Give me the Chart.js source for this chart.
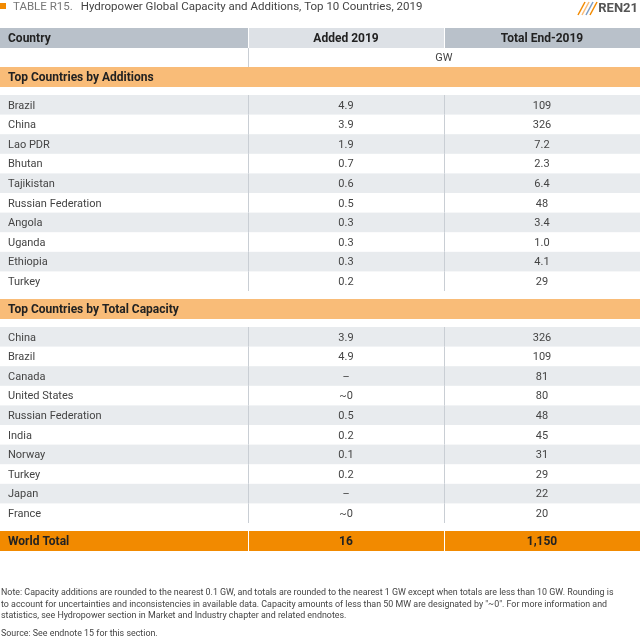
<meta charset="UTF-8">
<style>body{margin:0;background:#fff}</style>
<canvas id="tbl" width="640" height="639"></canvas>
<script src="https://cdn.jsdelivr.net/npm/chart.js@4.4.0/dist/chart.umd.min.js"></script>
<script>
const columns = ['Country', 'Added 2019', 'Total End-2019'];
const byAdditionsCountries = ['Brazil', 'China', 'Lao PDR', 'Bhutan', 'Tajikistan', 'Russian Federation', 'Angola', 'Uganda', 'Ethiopia', 'Turkey'];
const byAdditionsAdded = ['4.9', '3.9', '1.9', '0.7', '0.6', '0.5', '0.3', '0.3', '0.3', '0.2'];
const byAdditionsTotal = ['109', '326', '7.2', '2.3', '6.4', '48', '3.4', '1.0', '4.1', '29'];
const byCapacityCountries = ['China', 'Brazil', 'Canada', 'United States', 'Russian Federation', 'India', 'Norway', 'Turkey', 'Japan', 'France'];
const byCapacityAdded = ['3.9', '4.9', '–', '~0', '0.5', '0.2', '0.1', '0.2', '–', '~0'];
const byCapacityTotal = ['326', '109', '81', '80', '48', '45', '31', '29', '22', '20'];
const worldTotal = ['World Total', '16', '1,150'];

const X1 = 248, X2 = 444, W = 640, RH = 19.6;

const tablePlugin = {
  id: 'table',
  beforeDraw(chart) {
    const c = chart.ctx;
    c.save();
    c.fillStyle = '#fff'; c.fillRect(0, 0, W, 639);
    c.textBaseline = 'middle';
    const txt = (s, x, y, align, font, color) => {
      c.font = font; c.fillStyle = color || '#333'; c.textAlign = align; c.fillText(s, x, y + 1);
    };
    // title
    c.fillStyle = '#f28a00'; c.fillRect(0, 3, 6, 6);
    const tf = '11.5px Roboto, sans-serif';
    txt('TABLE R15.', 13, 6, 'left', tf, '#777');
    c.font = tf;
    const tx = 13 + c.measureText('TABLE R15.').width + 8;
    txt('Hydropower Global Capacity and Additions, Top 10 Countries, 2019', tx, 6, 'left', tf, '#444');
    txt('REN21', 638, 8, 'right', 'bold 13px Roboto, sans-serif', '#555');
    const stripe = ['#f28a00', '#f9bc78', '#7a9cc6', '#f28a00'];
    c.lineWidth = 1.5;
    for (let i = 0; i < 4; i++) { c.strokeStyle = stripe[i]; c.beginPath(); c.moveTo(578 + i * 4, 15); c.lineTo(585 + i * 4, 2); c.stroke(); }
    // header
    c.fillStyle = '#b9c1ca'; c.fillRect(0, 28, X1, 20);
    c.fillStyle = '#dde1e6'; c.fillRect(X1 + 1, 28, X2 - X1 - 1, 20);
    c.fillStyle = '#b9c1ca'; c.fillRect(X2 + 1, 28, W - X2 - 1, 20);
    const hf = 'bold 12px Roboto, sans-serif';
    txt(columns[0], 8, 38, 'left', hf, '#222');
    txt(columns[1], 346, 38, 'center', hf, '#222');
    txt(columns[2], 542, 38, 'center', hf, '#222');
    c.fillStyle = '#c9ced4'; c.fillRect(X1, 48, 1, 19);
    txt('GW', 444, 57.5, 'center', '11px Roboto, sans-serif', '#444');
    const band = (label, y) => {
      c.fillStyle = '#f9bc78'; c.fillRect(0, y, W, 20);
      txt(label, 8, y + 10, 'left', hf, '#222');
    };
    const rows = (names, a, t, y0) => {
      names.forEach((n, i) => {
        const y = y0 + i * RH;
        if (i % 2 === 0) { c.fillStyle = '#e8ebee'; c.fillRect(0, y, W, RH); }
        c.fillStyle = '#c9ced4'; c.fillRect(X1, y, 1, RH); c.fillRect(X2, y, 1, RH);
        const f = '11px Roboto, sans-serif';
        txt(n, 8, y + RH / 2, 'left', f, '#444');
        txt(a[i], 346, y + RH / 2, 'center', f, '#444');
        txt(t[i], 542, y + RH / 2, 'center', f, '#444');
      });
    };
    band('Top Countries by Additions', 67);
    rows(byAdditionsCountries, byAdditionsAdded, byAdditionsTotal, 95);
    band('Top Countries by Total Capacity', 299);
    rows(byCapacityCountries, byCapacityAdded, byCapacityTotal, 327);
    c.fillStyle = '#f28a00'; c.fillRect(0, 531, W, 20);
    c.fillStyle = '#fff'; c.fillRect(X1, 531, 1, 20); c.fillRect(X2, 531, 1, 20);
    txt(worldTotal[0], 8, 541, 'left', hf, '#222');
    txt(worldTotal[1], 346, 541, 'center', hf, '#222');
    txt(worldTotal[2], 542, 541, 'center', hf, '#222');
    const nf = '8.9px Roboto, sans-serif';
    txt('Note: Capacity additions are rounded to the nearest 0.1 GW, and totals are rounded to the nearest 1 GW except when totals are less than 10 GW. Rounding is', 1, 592, 'left', nf, '#444');
    txt('to account for uncertainties and inconsistencies in available data. Capacity amounts of less than 50 MW are designated by "~0". For more information and', 1, 604, 'left', nf, '#444');
    txt('statistics, see Hydropower section in Market and Industry chapter and related endnotes.', 1, 615, 'left', nf, '#444');
    txt('Source: See endnote 15 for this section.', 1, 633, 'left', nf, '#444');
    c.restore();
  }
};

new Chart(document.getElementById('tbl'), {
  type: 'bar',
  data: { labels: [], datasets: [] },
  options: {
    responsive: false, animation: false, devicePixelRatio: 1,
    plugins: { legend: { display: false }, tooltip: { enabled: false } },
    scales: { x: { display: false }, y: { display: false } }
  },
  plugins: [tablePlugin]
});
</script>
